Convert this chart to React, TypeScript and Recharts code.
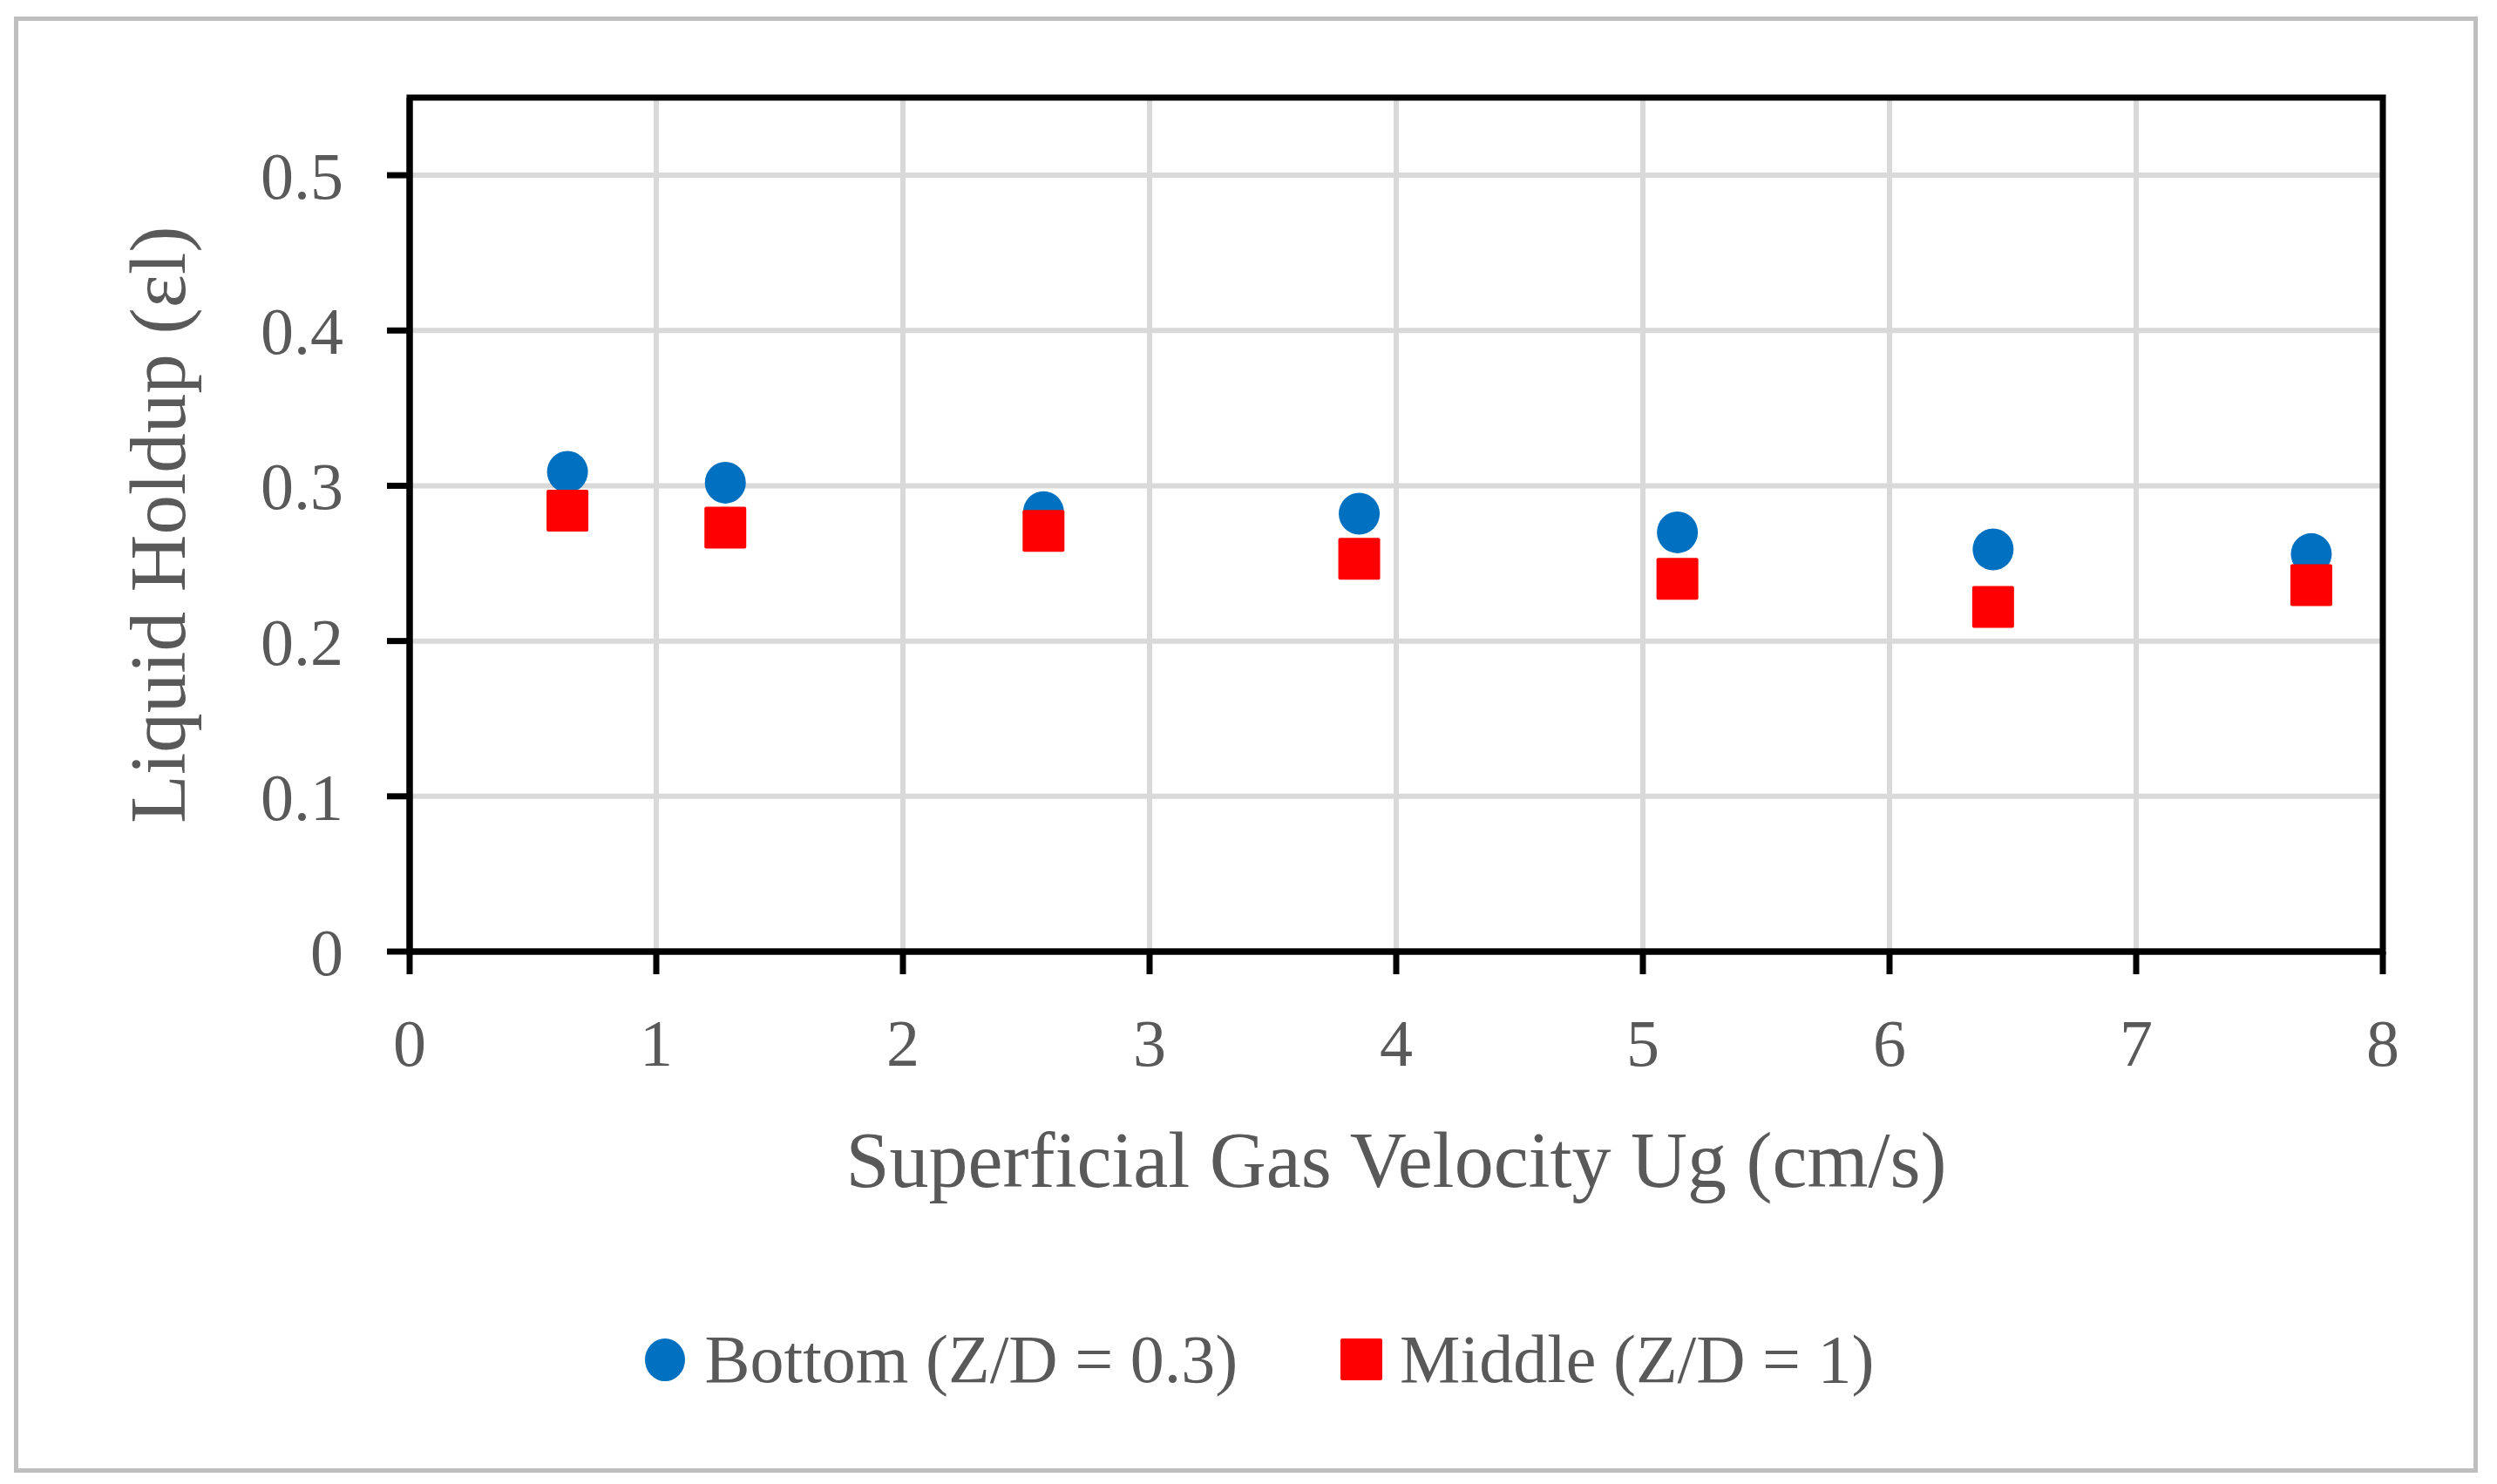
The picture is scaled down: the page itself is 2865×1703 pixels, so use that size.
import React from 'react';
import {
  ScatterChart,
  Scatter,
  XAxis,
  YAxis,
  CartesianGrid,
  ReferenceArea,
  Legend,
  Label,
} from 'recharts';

// superficial gas velocity (cm/s)
const ugValues = [0.64, 1.28, 2.57, 3.85, 5.14, 6.42, 7.71];
// liquid holdup at the two probe heights
const bottomHoldup = [0.309, 0.302, 0.283, 0.282, 0.27, 0.259, 0.256];
const middleHoldup = [0.284, 0.273, 0.271, 0.253, 0.24, 0.222, 0.236];

const xTicks = [0, 1, 2, 3, 4, 5, 6, 7, 8];
const yTicks = [0, 0.1, 0.2, 0.3, 0.4, 0.5];

const seriesNames = ['Bottom (Z/D = 0.3)', 'Middle (Z/D = 1)'];

const FONT = '"Liberation Serif", "Times New Roman", serif';
const TEXT = '#595959';
const BLUE = '#0070C0';
const RED = '#FF0000';

const bottomData = ugValues.map((x, i) => ({ x, y: bottomHoldup[i] }));
const middleData = ugValues.map((x, i) => ({ x, y: middleHoldup[i] }));

const CircleDot = (props: any) => {
  const { cx, cy } = props;
  if (cx == null || cy == null) return null;
  return <ellipse cx={cx} cy={cy} rx={23.5} ry={24} fill={BLUE} />;
};

const SquareDot = (props: any) => {
  const { cx, cy } = props;
  if (cx == null || cy == null) return null;
  return <rect x={cx - 24} y={cy - 24} width={48} height={48} rx={2} fill={RED} />;
};

const YTitle = (props: any) => {
  const vb = props.viewBox || {};
  const x = vb.x + 212;
  const y = vb.y + vb.height / 2;
  return (
    <text
      x={x}
      y={y}
      transform={`rotate(-90, ${x}, ${y})`}
      textAnchor="middle"
      fill={TEXT}
      fontSize={91}
      fontFamily={FONT}
    >
      Liquid Holdup (εl)
    </text>
  );
};

const XTitle = (props: any) => {
  const vb = props.viewBox || {};
  return (
    <text
      x={vb.x + vb.width / 2}
      y={vb.y + 270}
      textAnchor="middle"
      fill={TEXT}
      fontSize={90}
      fontFamily={FONT}
    >
      Superficial Gas Velocity Ug (cm/s)
    </text>
  );
};

const LegendContent = () => (
  <div
    style={{
      display: 'flex',
      justifyContent: 'center',
      alignItems: 'center',
      height: 100,
      paddingLeft: 26,
      fontFamily: FONT,
      fontSize: 78,
      color: TEXT,
      whiteSpace: 'nowrap',
    }}
  >
    <svg width={46} height={49} style={{ marginRight: 22 }}>
      <ellipse cx={23} cy={24.5} rx={23} ry={24.5} fill={BLUE} />
    </svg>
    <span style={{ marginRight: 118 }}>{seriesNames[0]}</span>
    <svg width={48} height={48} style={{ marginRight: 20 }}>
      <rect x={0} y={0} width={48} height={48} rx={2} fill={RED} />
    </svg>
    <span>{seriesNames[1]}</span>
  </div>
);

export default function App() {
  return (
    <div
      style={{
        position: 'absolute',
        left: 0,
        top: 0,
        width: 2865,
        height: 1703,
        background: '#fff',
      }}
    >
      {/* outer frame */}
      <div
        style={{
          position: 'absolute',
          left: 16,
          top: 19,
          width: 2827,
          height: 1671,
          border: '5px solid #bfbfbf',
          boxSizing: 'border-box',
        }}
      />
      <ScatterChart
        width={2865}
        height={1703}
        margin={{ top: 112, right: 131, bottom: 93, left: 0 }}
        style={{ position: 'absolute', left: 0, top: 0 }}
      >
        <CartesianGrid stroke="#d9d9d9" strokeWidth={6} />
        <XAxis
          type="number"
          dataKey="x"
          domain={[0, 8]}
          ticks={xTicks}
          interval={0}
          height={418}
          axisLine={{ stroke: '#000', strokeWidth: 7 }}
          tickLine={{ stroke: '#000', strokeWidth: 7 }}
          tickSize={26}
          tickMargin={51}
          tick={{ fill: TEXT, fontSize: 76, fontFamily: FONT }}
        >
          <Label content={<XTitle />} />
        </XAxis>
        <YAxis
          type="number"
          dataKey="y"
          domain={[0, 0.55]}
          ticks={yTicks}
          interval={0}
          width={470}
          axisLine={{ stroke: '#000', strokeWidth: 7 }}
          tickLine={{ stroke: '#000', strokeWidth: 7 }}
          tickSize={26}
          tickMargin={50}
          tick={{ fill: TEXT, fontSize: 76, fontFamily: FONT }}
        >
          <Label content={<YTitle />} />
        </YAxis>
        <ReferenceArea
          x1={0}
          x2={8}
          y1={0}
          y2={0.55}
          fill="none"
          stroke="#000"
          strokeWidth={7}
          ifOverflow="visible"
        />
        <Scatter
          name={seriesNames[0]}
          data={bottomData}
          fill={BLUE}
          shape={<CircleDot />}
          isAnimationActive={false}
        />
        <Scatter
          name={seriesNames[1]}
          data={middleData}
          fill={RED}
          shape={<SquareDot />}
          isAnimationActive={false}
        />
        <Legend
          verticalAlign="bottom"
          height={100}
          wrapperStyle={{ left: 0, width: 2865 }}
          content={<LegendContent />}
        />
      </ScatterChart>
    </div>
  );
}
